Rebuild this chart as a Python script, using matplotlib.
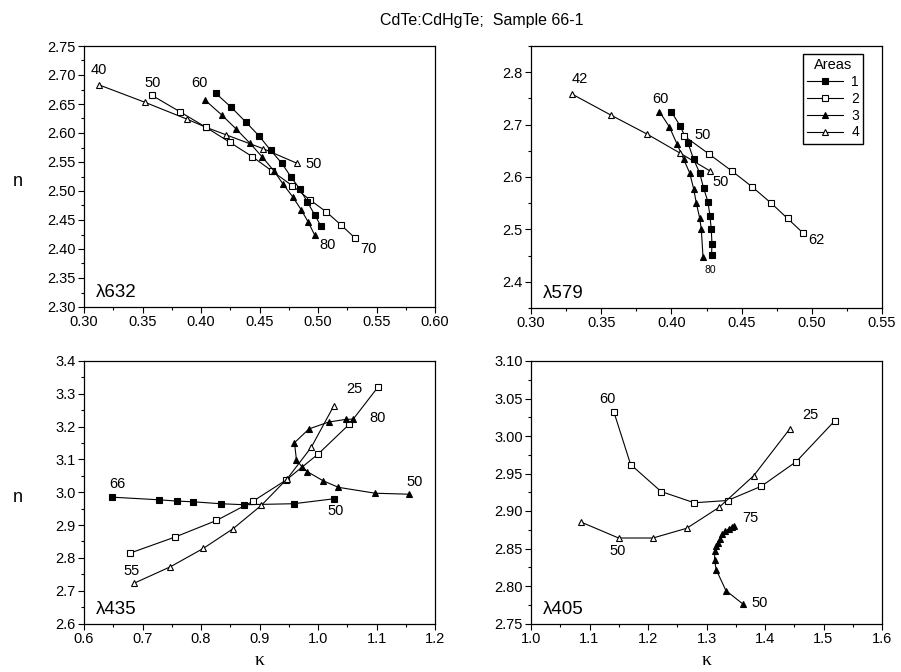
import numpy as np
import matplotlib.pyplot as plt
from matplotlib.ticker import MultipleLocator, FormatStrFormatter

plt.rcParams['font.family'] = ['Liberation Sans', 'DejaVu Sans']

# lambda 632
k632_1 = [0.4124, 0.4260, 0.4383, 0.4496, 0.4596, 0.4690, 0.4770, 0.4846, 0.4909, 0.4972, 0.5026]
n632_1 = [2.669, 2.644, 2.619, 2.595, 2.570, 2.548, 2.524, 2.503, 2.481, 2.459, 2.439]
k632_2 = [0.358, 0.3817, 0.4041, 0.4246, 0.4440, 0.4610, 0.4781, 0.4929, 0.5071, 0.5199, 0.5316]
n632_2 = [2.665, 2.637, 2.610, 2.584, 2.559, 2.534, 2.509, 2.485, 2.464, 2.441, 2.419]
k632_3 = [0.4033, 0.4178, 0.4300, 0.4420, 0.4522, 0.4622, 0.4701, 0.4784, 0.4855, 0.4915, 0.4972]
n632_3 = [2.657, 2.631, 2.607, 2.582, 2.559, 2.535, 2.512, 2.490, 2.468, 2.447, 2.424]
k632_4 = [0.3128, 0.352, 0.3879, 0.4041, 0.4212, 0.4531, 0.4818]
n632_4 = [2.683, 2.653, 2.624, 2.610, 2.597, 2.573, 2.548]

# lambda 579
k579_1 = [0.3999, 0.4063, 0.4118, 0.4158, 0.4201, 0.4229, 0.4260, 0.4275, 0.4284, 0.4289, 0.4286]
n579_1 = [2.725, 2.697, 2.665, 2.634, 2.608, 2.579, 2.553, 2.525, 2.500, 2.473, 2.451]
k579_2 = [0.4092, 0.4267, 0.4433, 0.4576, 0.4711, 0.4827, 0.4934]
n579_2 = [2.678, 2.644, 2.611, 2.581, 2.550, 2.521, 2.494]
k579_3 = [0.3914, 0.3985, 0.4040, 0.4087, 0.4130, 0.4158, 0.4177, 0.4201, 0.4213, 0.4225]
n579_3 = [2.725, 2.696, 2.663, 2.634, 2.608, 2.578, 2.551, 2.522, 2.500, 2.448]
k579_4 = [0.3294, 0.3570, 0.3826, 0.4059, 0.4272]
n579_4 = [2.758, 2.718, 2.682, 2.646, 2.612]

# lambda 435
k435_1 = [0.6481, 0.7284, 0.7593, 0.7862, 0.8338, 0.8739, 0.9582, 1.0269]
n435_1 = [2.985, 2.977, 2.973, 2.971, 2.965, 2.962, 2.965, 2.980]
k435_2 = [0.6779, 0.7564, 0.8264, 0.8883, 0.9461, 1.0000, 1.0533, 1.1032]
n435_2 = [2.814, 2.864, 2.914, 2.972, 3.038, 3.116, 3.207, 3.322]
k435_3 = [1.1563, 1.0980, 1.0349, 1.0086, 0.9816, 0.9725, 0.9632, 0.9598, 0.9846, 1.0183, 1.0475, 1.0602]
n435_3 = [2.994, 2.997, 3.015, 3.035, 3.063, 3.078, 3.098, 3.151, 3.193, 3.214, 3.222, 3.223]
k435_4 = [0.6848, 0.7478, 0.8041, 0.8549, 0.9031, 0.9473, 0.9885, 1.0269]
n435_4 = [2.722, 2.773, 2.829, 2.889, 2.960, 3.041, 3.137, 3.263]

# lambda 405
k405_2 = [1.1417, 1.1703, 1.2223, 1.2789, 1.336, 1.3937, 1.4537, 1.5189]
n405_2 = [3.032, 2.962, 2.926, 2.911, 2.914, 2.933, 2.966, 3.020]
k405_3 = [1.3622, 1.3331, 1.3165, 1.3137, 1.3142, 1.3165, 1.3189, 1.3228, 1.3268, 1.3319, 1.3377, 1.3429, 1.3473]
n405_3 = [2.776, 2.794, 2.822, 2.835, 2.847, 2.853, 2.858, 2.863, 2.869, 2.873, 2.876, 2.879, 2.880]
k405_4 = [1.0863, 1.1497, 1.2086, 1.2663, 1.3217, 1.3806, 1.4429]
n405_4 = [2.885, 2.864, 2.864, 2.877, 2.905, 2.947, 3.010]

W, H = 901, 672
fig = plt.figure(figsize=(W / 100, H / 100), dpi=100)


def box(l, t, r, b):
    return fig.add_axes([l / W, 1 - b / H, (r - l) / W, (b - t) / H])


ax1 = box(84, 46, 435, 307)
ax2 = box(531, 46, 882, 308)
ax3 = box(84, 361, 435, 623.5)
ax4 = box(531, 361, 882, 623.5)

sty = {
    1: dict(marker='s', mfc='black', mec='black'),
    2: dict(marker='s', mfc='white', mec='black'),
    3: dict(marker='^', mfc='black', mec='black'),
    4: dict(marker='^', mfc='white', mec='black'),
}


def draw(ax, k, n, area, ms=4.5):
    s = sty[area]
    return ax.plot(k, n, color='black', lw=0.8, marker=s['marker'], ms=ms,
                   mfc=s['mfc'], mec=s['mec'], mew=0.8, label=str(area))[0]


def lab(ax, txt, x, y, dx, dy, size=10.5):
    ax.annotate(txt, (x, y), xytext=(dx, dy), textcoords='offset pixels',
                ha='center', va='center', fontsize=size)


# panel 632
draw(ax1, k632_4, n632_4, 4)
draw(ax1, k632_2, n632_2, 2)
draw(ax1, k632_3, n632_3, 3)
draw(ax1, k632_1, n632_1, 1)
lab(ax1, '40', k632_4[0], n632_4[0], 0, 15)
lab(ax1, '50', k632_2[0], n632_2[0], 1, 12)
lab(ax1, '60', k632_3[0], n632_3[0], -5, 17)
lab(ax1, '50', k632_4[-1], n632_4[-1], 17, -1)
lab(ax1, '80', k632_3[-1], n632_3[-1], 13, -10)
lab(ax1, '70', k632_2[-1], n632_2[-1], 13, -11)

# panel 579
h1 = draw(ax2, k579_1, n579_1, 1, 4)
h2 = draw(ax2, k579_2, n579_2, 2, 4)
h3 = draw(ax2, k579_3, n579_3, 3, 4.5)
h4 = draw(ax2, k579_4, n579_4, 4, 4.5)
lab(ax2, '42', k579_4[0], n579_4[0], 7, 15)
lab(ax2, '60', k579_3[0], n579_3[0], 1, 13)
lab(ax2, '50', k579_2[0], n579_2[0], 18, 1)
lab(ax2, '50', k579_4[-1], n579_4[-1], 11, -11)
lab(ax2, '62', k579_2[-1], n579_2[-1], 14, -7)
lab(ax2, '80', k579_1[-1], n579_1[-1], -1, -15, 7.5)
ax2.legend(handles=[h1, h2, h3, h4], title='Areas', loc='upper right',
           bbox_to_anchor=(0.947, 0.969), fontsize=10, title_fontsize=10.5,
           handlelength=2.6, handletextpad=0.6, labelspacing=0.2,
           borderpad=0.3, fancybox=False, edgecolor='black', framealpha=1,
           borderaxespad=0)

# panel 435
draw(ax3, k435_1, n435_1, 1)
draw(ax3, k435_2, n435_2, 2)
draw(ax3, k435_4, n435_4, 4)
draw(ax3, k435_3, n435_3, 3)
lab(ax3, '66', k435_1[0], n435_1[0], 5, 13)
lab(ax3, '50', k435_1[-1], n435_1[-1], 2, -12)
lab(ax3, '55', k435_4[0], n435_4[0], -2, 12)
lab(ax3, '25', k435_2[-1], n435_2[-1], -24, -2)
lab(ax3, '80', k435_3[-1], n435_3[-1], 24, 1)
lab(ax3, '50', k435_3[0], n435_3[0], 5, 12)

# panel 405
draw(ax4, k405_2, n405_2, 2)
draw(ax4, k405_4, n405_4, 4)
draw(ax4, k405_3, n405_3, 3)
lab(ax4, '60', k405_2[0], n405_2[0], -6, 13)
lab(ax4, '25', k405_4[-1], n405_4[-1], 20, 14)
lab(ax4, '50', k405_4[1], n405_4[1], -1, -13)
lab(ax4, '75', k405_3[-1], n405_3[-1], 16, 8)
lab(ax4, '50', k405_3[0], n405_3[0], 17, 1)

limits = [
    (ax1, (0.30, 0.60), 0.05, (2.30, 2.75), 0.05, '%.2f', '%.2f', 'λ632'),
    (ax2, (0.30, 0.55), 0.05, (2.35, 2.85), 0.10, '%.2f', '%.1f', 'λ579'),
    (ax3, (0.6, 1.2), 0.1, (2.6, 3.4), 0.1, '%.1f', '%.1f', 'λ435'),
    (ax4, (1.0, 1.6), 0.1, (2.75, 3.10), 0.05, '%.1f', '%.2f', 'λ405'),
]
for ax, xl, xs, yl, ys, xf, yf, name in limits:
    ax.set_xlim(*xl)
    ax.set_ylim(*yl)
    ax.xaxis.set_major_locator(MultipleLocator(xs))
    ax.xaxis.set_minor_locator(MultipleLocator(xs / 2))
    ax.yaxis.set_major_locator(MultipleLocator(ys))
    ax.yaxis.set_minor_locator(MultipleLocator(ys / 2))
    ax.xaxis.set_major_formatter(FormatStrFormatter(xf))
    ax.yaxis.set_major_formatter(FormatStrFormatter(yf))
    ax.tick_params(which='major', direction='out', length=4, width=0.8,
                   labelsize=10.5, pad=2, top=False, right=False)
    ax.tick_params(which='minor', direction='out', length=2.5, width=0.8,
                   top=False, right=False)
    for sp in ax.spines.values():
        sp.set_linewidth(0.9)
    ax.text(0.035, 0.055, name, transform=ax.transAxes, fontsize=13.5,
            ha='left', va='center')

for ax in (ax1, ax3):
    ax.set_ylabel('n', rotation=0, fontsize=13, va='center', ha='center')
    ax.yaxis.set_label_coords(-0.19, 0.48)
for ax in (ax3, ax4):
    ax.set_xlabel('κ', fontsize=14, family=['Liberation Serif', 'DejaVu Serif'],
                  va='center')
    ax.xaxis.set_label_coords(0.5, -0.142)

fig.text(482 / W, 1 - 21 / H, 'CdTe:CdHgTe;  Sample 66-1', ha='center',
         va='center', fontsize=11.5)

fig.savefig('out.png', dpi=100)
